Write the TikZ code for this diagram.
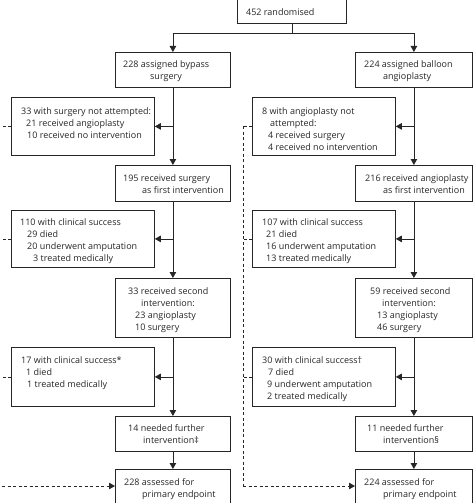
\documentclass[tikz,border=0pt]{standalone}
\usepackage{fontspec}
\setmainfont{Open Sans}
\usetikzlibrary{arrows.meta}
\begin{document}
\begin{tikzpicture}[x=1pt,y=-1pt,
  box/.style={draw=black!85, line width=0.8pt, inner sep=0pt, anchor=north west, rectangle},
  txt/.style={inner sep=0pt, anchor=base west, align=left, font=\fontsize{9}{12}\selectfont, text=black!85},
  ln/.style={draw=black!85, line width=0.8pt},
  arr/.style={draw=black!85, line width=0.8pt, -{Triangle[width=6.5pt,length=6pt]}},
  dsh/.style={draw=black!85, line width=0.8pt, dash pattern=on 3pt off 2.5pt}]
\useasboundingbox (0,0) rectangle (474,503);
% boxes
\node[box, minimum width=109pt, minimum height=33pt] (b0) at (237,-10) {};
\node[box, minimum width=115pt, minimum height=35pt] (b1) at (115,52) {};
\node[box, minimum width=117pt, minimum height=35pt] (b2) at (355,52) {};
\node[box, minimum width=143pt, minimum height=58pt] (b3) at (11,97) {};
\node[box, minimum width=143pt, minimum height=58pt] (b4) at (252,97) {};
\node[box, minimum width=115pt, minimum height=36pt] (b5) at (115,165) {};
\node[box, minimum width=117pt, minimum height=36pt] (b6) at (355,165) {};
\node[box, minimum width=143pt, minimum height=57pt] (b7) at (11,210) {};
\node[box, minimum width=143pt, minimum height=57pt] (b8) at (252,210) {};
\node[box, minimum width=115pt, minimum height=59pt] (b9) at (115,278) {};
\node[box, minimum width=117pt, minimum height=59pt] (b10) at (355,278) {};
\node[box, minimum width=143pt, minimum height=59pt] (b11) at (11,347) {};
\node[box, minimum width=143pt, minimum height=59pt] (b12) at (252,347) {};
\node[box, minimum width=115pt, minimum height=35pt] (b13) at (115,416) {};
\node[box, minimum width=117pt, minimum height=35pt] (b14) at (355,416) {};
\node[box, minimum width=115pt, minimum height=45pt] (b15) at (115,469) {};
\node[box, minimum width=117pt, minimum height=45pt] (b16) at (355,469) {};
% texts (anchor = baseline of last line)
\node[txt] (t0) at (246,16) {452 randomised};
\node[txt] (t1) at (123,79) {228 assigned bypass\\\hspace*{27pt}surgery};
\node[txt] (t2) at (364,79) {224 assigned balloon\\\hspace*{19pt}angioplasty};
\node[txt] (t3) at (21,138) {33 with surgery not attempted:\\\hspace*{5pt}21 received angioplasty\\\hspace*{6pt}10 received no intervention};
\node[txt] (t4) at (262,150) {8 with angioplasty not\\\hspace*{8pt}attempted:\\\hspace*{6pt}4 received surgery\\\hspace*{6pt}4 received no intervention};
\node[txt] (t5) at (123,193) {195 received surgery\\\hspace*{19pt}as first intervention};
\node[txt] (t6) at (365,193) {216 received angioplasty\\\hspace*{18pt}as first intervention};
\node[txt] (t7) at (20,261) {110 with clinical success\\\hspace*{7pt}29 died\\\hspace*{7pt}20 underwent amputation\\\hspace*{13pt}3 treated medically};
\node[txt] (t8) at (262,261) {107 with clinical success\\\hspace*{4pt}21 died\\\hspace*{4pt}16 underwent amputation\\\hspace*{4pt}13 treated medically};
\node[txt] (t9) at (128,330) {33 received second\\\hspace*{13pt}intervention:\\\hspace*{7pt}23 angioplasty\\\hspace*{7pt}10 surgery};
\node[txt] (t10) at (370,330) {59 received second\\\hspace*{12pt}intervention:\\\hspace*{7pt}13 angioplasty\\\hspace*{7pt}46 surgery};
\node[txt] (t11) at (21,387) {17 with clinical success*\\\hspace*{5pt}1 died\\\hspace*{6pt}1 treated medically};
\node[txt] (t12) at (262,399) {30 with clinical success†\\\hspace*{6pt}7 died\\\hspace*{5pt}9 underwent amputation\\\hspace*{5pt}2 treated medically};
\node[txt] (t13) at (128,443) {14 needed further\\\hspace*{15pt}intervention‡};
\node[txt] (t14) at (367,443) {11 needed further\\\hspace*{16pt}intervention§};
\node[txt] (t15) at (124,497) {228 assessed for\\\hspace*{18pt}primary endpoint};
\node[txt] (t16) at (364,497) {224 assessed for\\\hspace*{19pt}primary endpoint};
% connectors
\coordinate (sp) at (b0.south |- 0,33);
\draw[ln] (b0.south) -- (sp);
\draw[arr] (sp) -| (b1.north);
\draw[arr] (sp) -| (b2.north);
\draw[arr] (b1.south) -- (b5.north);
\draw[arr] (b1.south |- b3.east) -- (b3.east);
\draw[arr] (b5.south) -- (b9.north);
\draw[arr] (b5.south |- b7.east) -- (b7.east);
\draw[arr] (b9.south) -- (b13.north);
\draw[arr] (b9.south |- b11.east) -- (b11.east);
\draw[arr] (b13.south) -- (b15.north);
\draw[arr] (b2.south) -- (b6.north);
\draw[arr] (b2.south |- b4.east) -- (b4.east);
\draw[arr] (b6.south) -- (b10.north);
\draw[arr] (b6.south |- b8.east) -- (b8.east);
\draw[arr] (b10.south) -- (b14.north);
\draw[arr] (b10.south |- b12.east) -- (b12.east);
\draw[arr] (b14.south) -- (b16.north);
% dashed returns
\coordinate (ld) at (-9,0);
\coordinate (rd) at (243,0);
\coordinate (l15) at (115,486);
\coordinate (r16) at (355,486);
\draw[dsh] (b3.west) -- (ld |- b3.west);
\draw[dsh] (b7.west) -- (ld |- b7.west);
\draw[dsh] (b11.west) -- (ld |- b11.west);
\draw[dsh] (ld |- b3.west) -- (ld |- l15);
\draw[dsh, -{Triangle[width=6.5pt,length=6pt]}] (ld |- l15) -- (l15);
\draw[dsh] (b4.west) -- (rd |- b4.west);
\draw[dsh] (b8.west) -- (rd |- b8.west);
\draw[dsh] (b12.west) -- (rd |- b12.west);
\draw[dsh] (rd |- b4.west) -- (rd |- r16);
\draw[dsh, -{Triangle[width=6.5pt,length=6pt]}] (rd |- r16) -- (r16);
\end{tikzpicture}
\end{document}
